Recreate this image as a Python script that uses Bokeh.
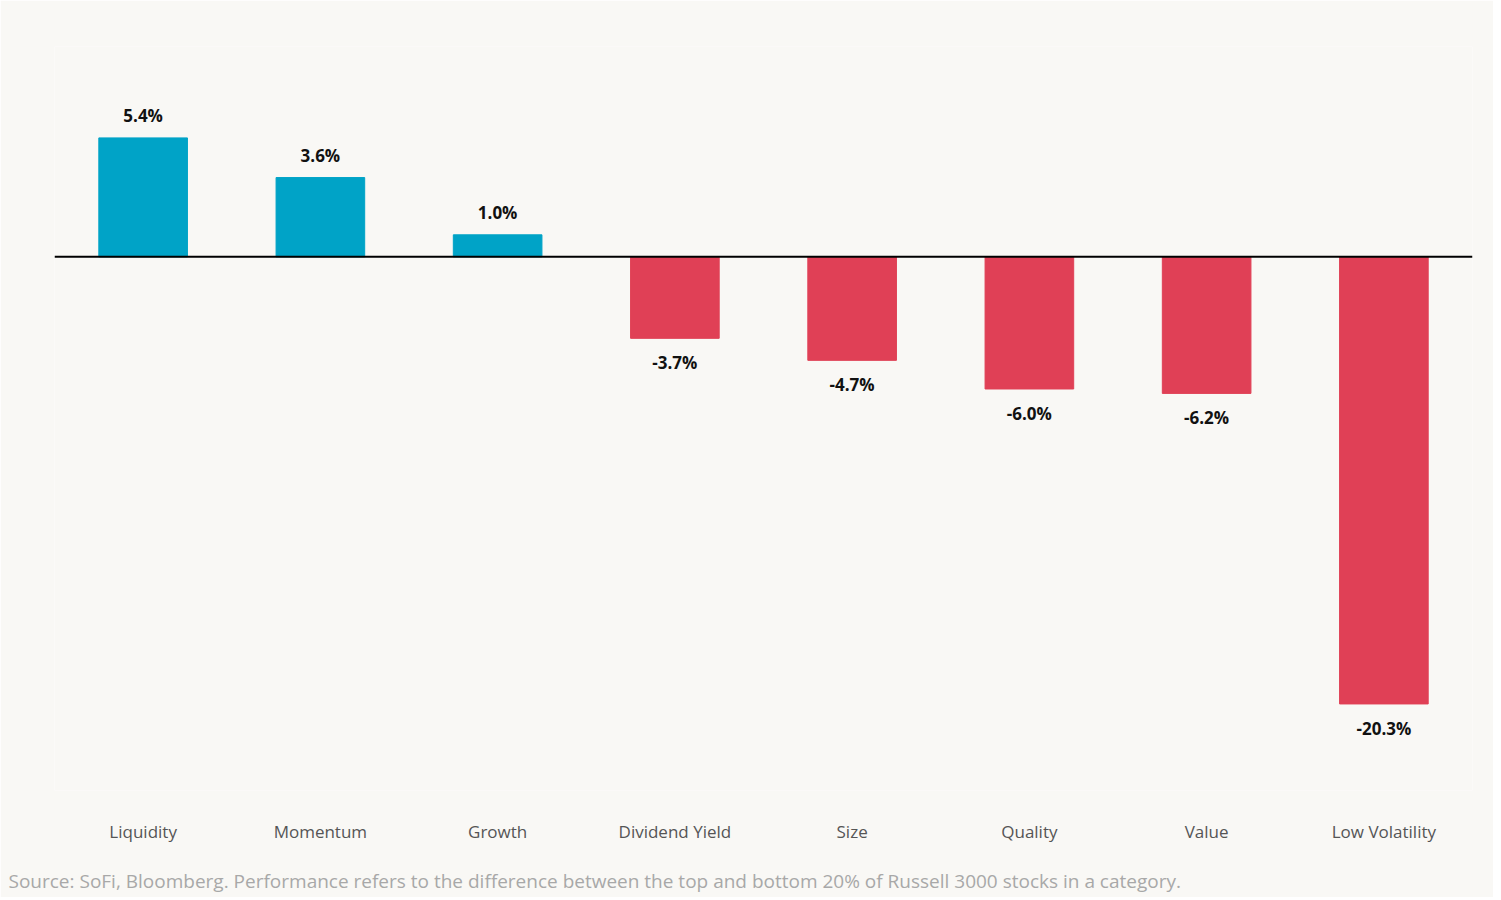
from bokeh.plotting import figure
from bokeh.models import ColumnDataSource, LabelSet, Span, Title, FactorRange
from bokeh.core.properties import value
from bokeh.embed import file_html
from bokeh.resources import INLINE

categories = ["Liquidity", "Momentum", "Growth", "Dividend Yield", "Size",
              "Quality", "Value", "Low Volatility"]
values = [5.4, 3.6, 1.0, -3.7, -4.7, -6.0, -6.2, -20.3]
source_note = ("Source: SoFi, Bloomberg. Performance refers to the difference between "
               "the top and bottom 20% of Russell 3000 stocks in a category.")

BLUE = "#00a3c7"
RED = "#e04056"
BG = "#f9f8f5"

colors = [BLUE if v >= 0 else RED for v in values]
labels = [f"{v:.1f}%" for v in values]

pos = ColumnDataSource(dict(
    x=[c for c, v in zip(categories, values) if v >= 0],
    y=[v for v in values if v >= 0],
    t=[l for l, v in zip(labels, values) if v >= 0]))
neg = ColumnDataSource(dict(
    x=[c for c, v in zip(categories, values) if v < 0],
    y=[v for v in values if v < 0],
    t=[l for l, v in zip(labels, values) if v < 0]))
src = ColumnDataSource(dict(x=categories, top=values, color=colors))

p = figure(width=1493, height=897, output_backend="svg", toolbar_location=None,
           x_range=FactorRange(*categories, range_padding=0),
           y_range=(-24.23, 9.55),
           min_border_left=54, min_border_right=21, min_border_top=46,
           min_border_bottom=107, background_fill_color=BG,
           border_fill_color=BG, outline_line_color=None)

p.vbar(x="x", top="top", bottom=0, width=0.5, color="color", source=src)

p.add_layout(Span(location=0, dimension="width", line_color="black", line_width=2))

font = "Open Sans"
p.add_layout(LabelSet(x="x", y="y", text="t", source=pos, text_align="center",
                      text_baseline="bottom", y_offset=11, text_font=value(font),
                      text_font_style="bold", text_font_size="17px", text_color="#111111"))
p.add_layout(LabelSet(x="x", y="y", text="t", source=neg, text_align="center",
                      text_baseline="top", y_offset=-13, text_font=value(font),
                      text_font_style="bold", text_font_size="17px", text_color="#111111"))

p.yaxis.visible = False
p.xgrid.visible = False
p.ygrid.visible = False
p.xaxis.axis_line_color = None
p.xaxis.major_tick_line_color = None
p.xaxis.minor_tick_line_color = None
p.xaxis.major_label_standoff = 23
p.xaxis.major_label_text_font = font
p.xaxis.major_label_text_font_size = "17px"
p.xaxis.major_label_text_color = "#555555"
# blank spacer between the category labels and the source note
p.xaxis.axis_label = "\u00a0"
p.xaxis.axis_label_standoff = 6
p.xaxis.axis_label_text_font_size = "10px"

p.add_layout(Title(text=source_note, align="left", offset=-46, standoff=0,
                   text_font=font, text_font_size="19px", text_color="#a8a8a8",
                   text_font_style="normal"), "below")

open("out.html", "w").write(file_html(p, INLINE))
